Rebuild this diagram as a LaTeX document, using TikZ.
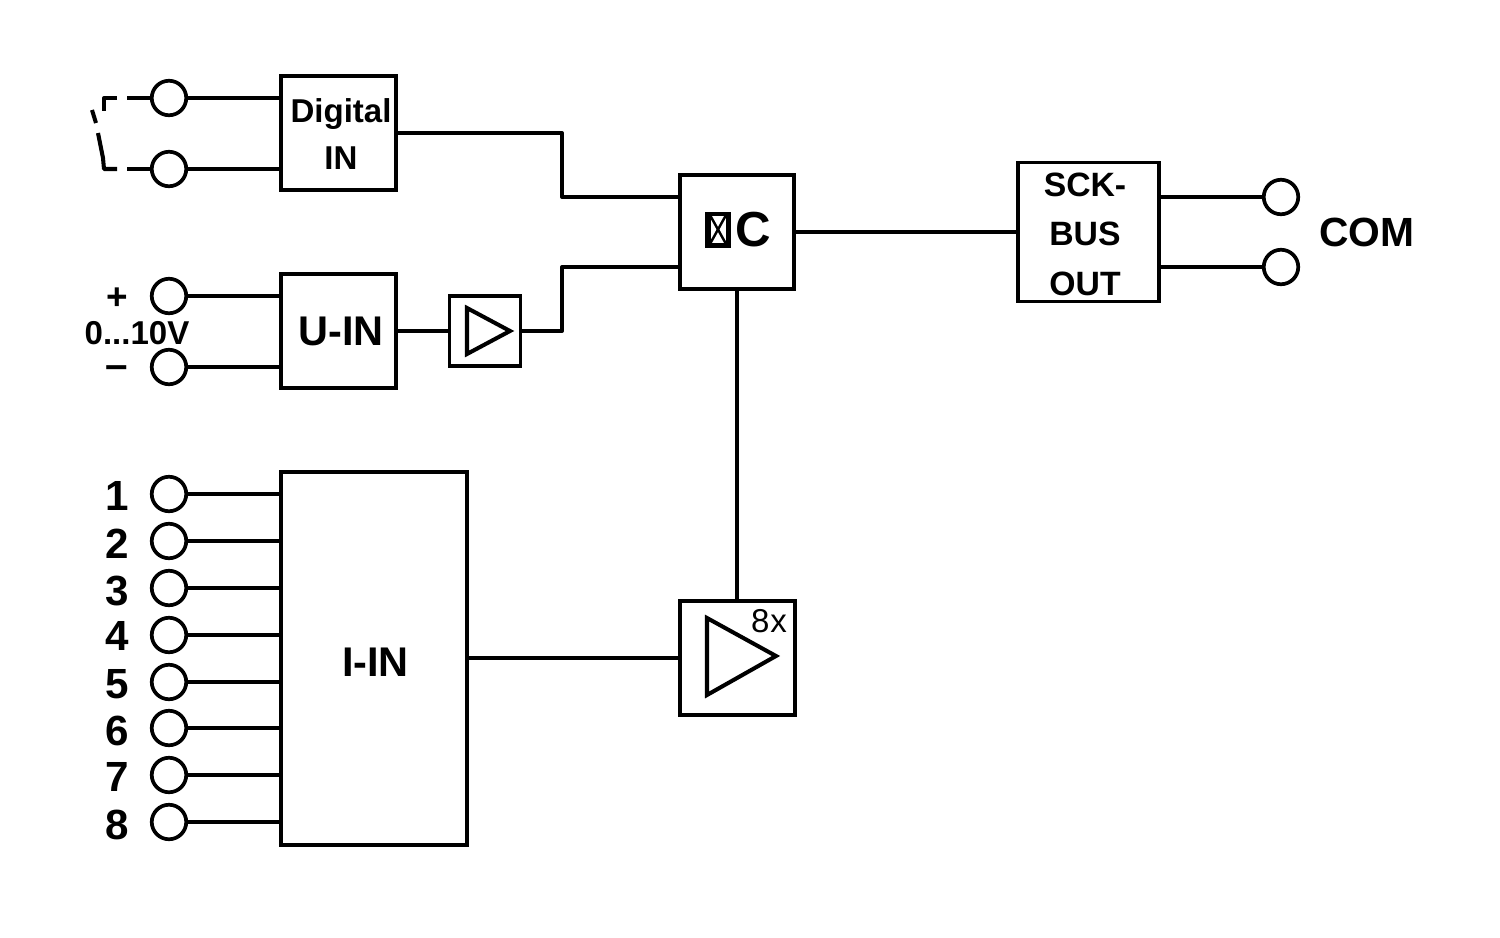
\documentclass[tikz,border=0pt]{standalone}
\usepackage{fontspec}
\setmainfont{Liberation Sans}
\usetikzlibrary{positioning}
\tikzset{
	wire/.style = {line width = 1.15pt, line join = round},
	blockbox/.style = {draw, line width = 1.05pt, inner sep = 0, fill = white},
	terminal/.style = {draw, circle, line width = 1.05pt, inner sep = 0, minimum size = 0.345cm, fill = white},
	boldtext/.style = {inner sep = 0, anchor = base, font = \bfseries\fontsize{#1}{#1}\selectfont},
	thintext/.style = {inner sep = 0, anchor = base, font = \fontsize{#1}{#1}\selectfont}
}

\begin{document}
\begin{tikzpicture}
		\useasboundingbox (0,0) rectangle (15,9.37);
		% Blocks
		\node[blockbox, minimum width = 1.15cm, minimum height = 1.14cm] at (3.385,8.04) (digital) {};
		\node[blockbox, minimum width = 1.15cm, minimum height = 1.14cm] at (3.385,6.06) (uin) {};
		\node[blockbox, minimum width = 0.71cm, minimum height = 0.70cm] at (4.85,6.06) (ampU) {};
		\node[blockbox, minimum width = 1.86cm, minimum height = 3.73cm] at (3.74,2.785) (iin) {};
		\node[blockbox, minimum width = 1.14cm, minimum height = 1.14cm] at (7.37,7.05) (uc) {};
		\node[blockbox, minimum width = 1.15cm, minimum height = 1.14cm] at (7.375,2.79) (ampI) {};
		\node[blockbox, minimum width = 1.41cm, minimum height = 1.39cm] at (10.885,7.05) (sck) {};
		% Terminals
		\node[terminal] at (1.69,8.39) (tA) {};
		\node[terminal] at (1.69,7.68) (tB) {};
		\node[terminal] at (1.69,6.41) (tPlus) {};
		\node[terminal] at (1.69,5.70) (tMinus) {};
		\node[terminal] at (12.81,7.40) (tComA) {};
		\node[terminal] at (12.81,6.70) (tComB) {};
		% Current inputs
		\foreach \n/\y/\b in {1/4.43/4.27, 2/3.96/3.79, 3/3.49/3.32, 4/3.02/2.87, 5/2.55/2.39, 6/2.09/1.92, 7/1.62/1.46, 8/1.15/0.98} {
			\node[terminal] at (1.69,\y) (tI\n) {};
			\node[boldtext = 12] at (1.17,\b) (lab\n) {\n};
			\draw[wire] (tI\n.east) -- (iin.west |- tI\n);
		}
		% Wires on the left
		\draw[wire] (tA.east) -- (digital.west |- tA);
		\draw[wire] (tB.east) -- (digital.west |- tB);
		\draw[wire] (tPlus.east) -- (uin.west |- tPlus);
		\draw[wire] (tMinus.east) -- (uin.west |- tMinus);
		% Switch
		\draw[wire] (tA.west) -- (1.27,8.39);
		\draw[wire] (1.17,8.39) -- (1.04,8.39) -- (1.04,8.26);
		\draw[wire] (0.92,8.27) -- (0.96,8.14);
		\draw[wire] (0.98,8.04) -- (1.03,7.79) -- (1.04,7.68) -- (1.17,7.68);
		\draw[wire] (1.27,7.68) -- (tB.west);
		% Signal path
		\coordinate (ucA) at (6.79,7.40);
		\coordinate (ucB) at (6.79,6.70);
		\draw[wire] (digital.east) -- (5.62,8.04) -- (5.62,7.40) -- (ucA);
		\draw[wire] (uin.east) -- (ampU.west);
		\draw[wire] (ampU.east) -- (5.62,6.06) -- (5.62,6.70) -- (ucB);
		\draw[wire] (iin.east |- ampI) -- (ampI.west);
		\draw[wire] (uc.south) -- (ampI.north -| uc);
		\draw[wire] (uc.east) -- (sck.west);
		\draw[wire] (sck.east |- tComA) -- (tComA.west);
		\draw[wire] (sck.east |- tComB) -- (tComB.west);
		% Amplifiers
		\draw[wire, line join = miter] (4.67,6.29) -- (5.10,6.06) -- (4.67,5.83) -- cycle;
		\draw[wire, line join = miter] (7.07,3.19) -- (7.76,2.81) -- (7.07,2.42) -- cycle;
		% Block texts
		\node[boldtext = 9.4] at (3.41,8.15) (digitalA) {Digital};
		\node[boldtext = 9.4] at (3.41,7.68) (digitalB) {IN};
		\node[boldtext = 11.8] at (3.41,5.92) (uinText) {U-IN};
		\node[boldtext = 11.8] at (3.755,2.61) (iinText) {I-IN};
		\node[boldtext = 9.6] at (10.85,7.41) (sckA) {SCK-};
		\node[boldtext = 9.6] at (10.85,6.92) (sckB) {BUS};
		\node[boldtext = 9.6] at (10.85,6.42) (sckC) {OUT};
		\node[boldtext = 14] at (7.535,6.91) (ucText) {C};
		\node[thintext = 9.4] at (7.69,3.05) (ampCount) {8\kern0.2pt x};
		\node[boldtext = 11.6] at (13.67,6.91) (com) {COM};
		% Voltage labels
		\node[boldtext = 10.5] at (1.17,6.28) (plus) {+};
		\node[boldtext = 9.4] at (1.37,5.93) (range) {0...10V};
		\node[boldtext = 11.5] at (1.17,5.59) (minus) {–};
		% Broken glyph
		\fill (7.05,7.25) rectangle (7.31,6.89);
		\fill[white] (7.105,7.21) rectangle (7.255,6.94);
		\draw[line width = 0.7pt] (7.105,7.21) -- (7.255,6.94);
		\draw[line width = 0.7pt] (7.255,7.21) -- (7.105,6.94);
	\end{tikzpicture}
\end{document}
